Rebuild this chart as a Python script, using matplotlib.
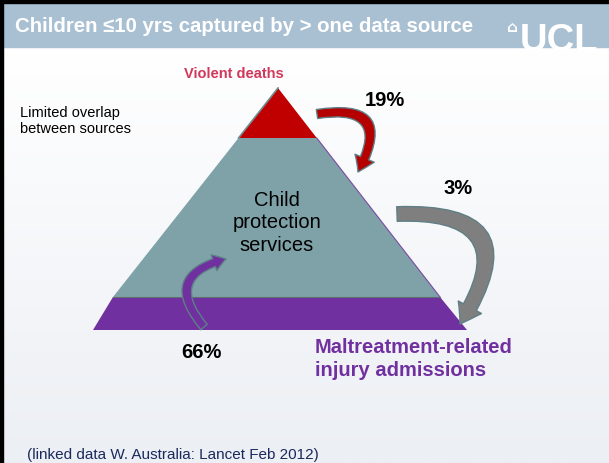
import numpy as np
import matplotlib
matplotlib.use("Agg")
import matplotlib.pyplot as plt
from matplotlib.patches import Polygon, Rectangle, FancyArrowPatch

plt.rcParams['font.family'] = ['Liberation Sans', 'DejaVu Sans']

# ---- content ----
title = "Children \u226410 yrs captured by > one data source"
source_labels = ["Violent deaths", "Child\nprotection\nservices", "Maltreatment-related\ninjury admissions"]
overlap_pcts = ["19%", "3%", "66%"]
side_note = "Limited overlap\nbetween sources"
footnote = "(linked data W. Australia: Lancet Feb 2012)"

W, H = 609, 463
fig = plt.figure(figsize=(W / 100, H / 100), dpi=100)
ax = fig.add_axes([0, 0, 1, 1])
ax.set_xlim(0, W)
ax.set_ylim(H, 0)
ax.axis('off')

# background gradient
grad = np.linspace(0, 1, 256)[:, None]
c0 = np.array([1.0, 1.0, 1.0])
c1 = np.array([0xEC, 0xEF, 0xF4]) / 255
img = c0 + (c1 - c0) * grad[..., None]
img = np.repeat(img, 2, axis=1)
ax.imshow(img, extent=(0, W, H, 47), aspect='auto', zorder=0)

# header band and border
ax.add_patch(Rectangle((0, 0), W, 47, color='#A9C0D3', zorder=1))
ax.add_patch(Rectangle((0, 0), W, 3, color='black', zorder=2))
ax.add_patch(Rectangle((0, 0), 3, H, color='black', zorder=2))
ax.text(15, 27, title, color='white', fontsize=14.7, fontweight='bold', va='center', ha='left', zorder=3)
ax.text(520, 51, "UCL", color='white', fontsize=27.5, fontweight='heavy', va='baseline', ha='left', zorder=3,
        clip_on=True)
ax.text(512, 28, "\u2302", color='white', fontsize=11, fontweight='bold', va='center', ha='center', zorder=3,
        family=['DejaVu Sans'])

# pyramid geometry
apex = (278, 88)
base_y = 297
base_l, base_r = 113, 440
red_y = 138
def edge_x(y, side):
    t = (y - apex[1]) / (base_y - apex[1])
    end = base_l if side == 'l' else base_r
    return apex[0] + (end - apex[0]) * t

teal = Polygon([(edge_x(red_y, 'l'), red_y), (edge_x(red_y, 'r'), red_y), (base_r, base_y), (base_l, base_y)],
               closed=True, facecolor='#7FA2A9', edgecolor='none', zorder=3)
red = Polygon([apex, (edge_x(red_y, 'r'), red_y), (edge_x(red_y, 'l'), red_y)], closed=True,
              facecolor='#C00000', edgecolor='none', zorder=3)
purple = Polygon([(base_l, base_y), (base_r, base_y), (467, 330), (93, 330)], closed=True,
                 facecolor='#7030A0', edgecolor='none', zorder=3)
for p in (teal, red, purple):
    ax.add_patch(p)
ax.plot([apex[0], edge_x(red_y, 'l')], [apex[1], red_y], color='#6E8C92', lw=1.2, zorder=4)
ax.plot([edge_x(red_y, 'r'), base_r], [red_y, base_y], color='#7A4AA0', lw=0.8, zorder=4)
ax.plot([base_l, base_r], [base_y, base_y], color='#5E6E70', lw=0.8, zorder=4)

# arrows
def arrow(a, b, rad, tw, hw, hl, fc):
    ar = FancyArrowPatch(a, b, connectionstyle=f"arc3,rad={rad}",
                         arrowstyle=f"simple,tail_width={tw},head_width={hw},head_length={hl}",
                         facecolor=fc, edgecolor='#5F7F86', lw=1.0, shrinkA=0, shrinkB=0,
                         mutation_scale=1, zorder=5)
    ax.add_patch(ar)

arrow((317, 114), (358, 172), -1.0, 6.5, 15, 11, '#B50000')
arrow((397, 214), (460, 324), -0.95, 10.5, 19, 14, '#7F7F7F')
arrow((204, 327), (226, 259), -0.8, 6, 12, 9, '#7030A0')

# labels
ax.text(234, 74, source_labels[0], color='#D2375C', fontsize=10.5, fontweight='bold', ha='center', va='center', zorder=6)
ax.text(277, 223, source_labels[1], color='black', fontsize=14.5, ha='center', va='center',
        linespacing=1.25, zorder=6)
ax.text(315, 359, source_labels[2], color='#7030A0', fontsize=14.5, fontweight='bold', ha='left', va='center',
        linespacing=1.25, zorder=6)
ax.text(385, 100, overlap_pcts[0], color='black', fontsize=14.5, fontweight='bold', ha='center', va='center', zorder=6)
ax.text(458, 188, overlap_pcts[1], color='black', fontsize=14.5, fontweight='bold', ha='center', va='center', zorder=6)
ax.text(201, 352, overlap_pcts[2], color='black', fontsize=14.5, fontweight='bold', ha='center', va='center', zorder=6)
ax.text(20, 121, side_note, color='black', fontsize=10.5, ha='left', va='center', linespacing=1.15, zorder=6)
ax.text(27, 455, footnote, color='#1B2A5C', fontsize=11, ha='left', va='center', zorder=6)

fig.savefig("out.png", dpi=100)
